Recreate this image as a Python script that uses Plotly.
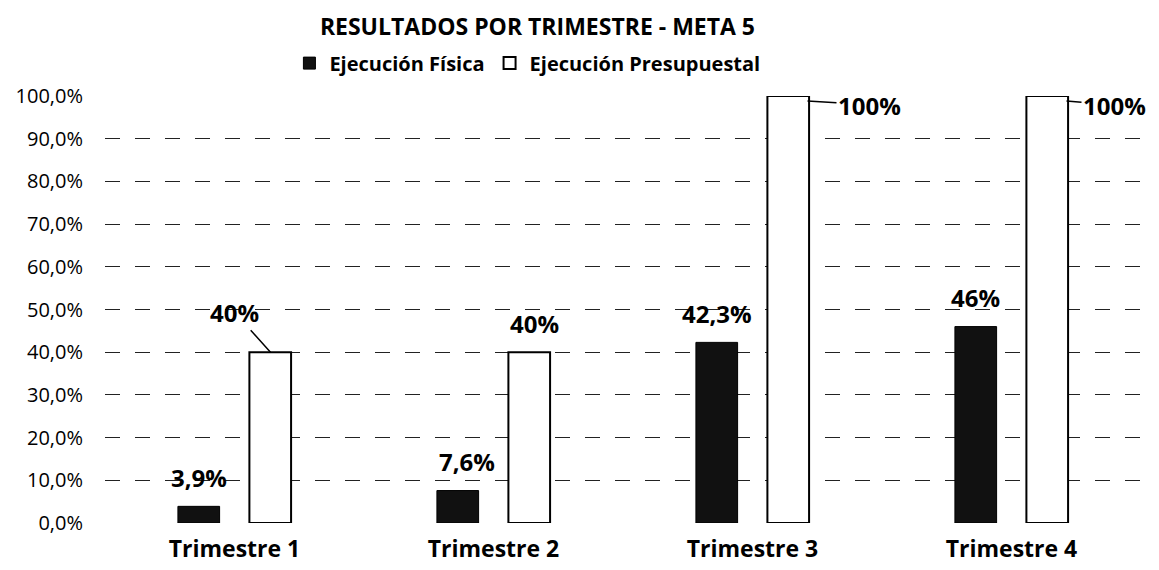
import plotly.graph_objects as go

categories = ["Trimestre 1", "Trimestre 2", "Trimestre 3", "Trimestre 4"]
fisica = [0.039, 0.076, 0.423, 0.46]
presupuestal = [0.40, 0.40, 1.00, 1.00]
fisica_labels = ["3,9%", "7,6%", "42,3%", "46%"]
presup_labels = ["40%", "40%", "100%", "100%"]
y_ticks = [0, 0.1, 0.2, 0.3, 0.4, 0.5, 0.6, 0.7, 0.8, 0.9, 1.0]

FONT = "Open Sans"
LABEL_SIZE = 24

fig = go.Figure()
fig.add_trace(go.Bar(
    x=categories, y=fisica, name="Ejecución Física",
    marker=dict(color="#111111", line=dict(color="#000000", width=1)),
))
fig.add_trace(go.Bar(
    x=categories, y=presupuestal, name="Ejecución Presupuestal",
    marker=dict(color="#ffffff", line=dict(color="#000000", width=2)),
))

# physical labels: centred above each bar
f_xshift = [-36, -27, -36, -36]
for cat, val, lab, xs in zip(categories, fisica, fisica_labels, f_xshift):
    fig.add_annotation(x=cat, y=val, xshift=xs, yshift=29, text="<b>%s</b>" % lab,
                       showarrow=False, yanchor="middle",
                       font=dict(family=FONT, size=LABEL_SIZE, color="#000000"))

# budget labels (styling offsets only)
p_xshift = [36, 41, 55, 55]
p_yshift = [0, 29, -5, -5]
p_ax = [-36, 0, 62, 48]
p_ay = [-40, 0, 4, 4]
p_arrow = [True, False, True, True]
for cat, val, lab, xs, ys, ax, ay, arr in zip(categories, presupuestal, presup_labels,
                                              p_xshift, p_yshift, p_ax, p_ay, p_arrow):
    if arr:
        fig.add_annotation(x=cat, y=val, xshift=xs, yshift=ys, text="<b>%s</b>" % lab,
                           showarrow=True, arrowhead=0, arrowwidth=1.5, arrowcolor="#000000",
                           ax=ax, ay=ay,
                           font=dict(family=FONT, size=LABEL_SIZE, color="#000000"))
    else:
        fig.add_annotation(x=cat, y=val, xshift=xs, yshift=ys, text="<b>%s</b>" % lab,
                           showarrow=False, yanchor="middle",
                           font=dict(family=FONT, size=LABEL_SIZE, color="#000000"))

fig.update_layout(
    width=1151, height=562,
    margin=dict(l=97, r=11, t=88, b=47, autoexpand=False),
    paper_bgcolor="#ffffff", plot_bgcolor="#ffffff",
    separators=",.",
    barmode="group", bargap=0.448, bargroupgap=0.417,
    title=dict(text="<b>RESULTADOS POR TRIMESTRE - META 5</b>", x=0.46, xanchor="center",
               xref="container", yref="container", y=0.966, yanchor="middle",
               font=dict(family=FONT, size=23, color="#000000")),
    legend=dict(orientation="h", xref="paper", yref="paper",
                x=0.405, xanchor="center", y=1.077, yanchor="middle",
                font=dict(family=FONT, size=20, color="#000000", weight="bold"),
                itemwidth=30, traceorder="normal"),
    font=dict(family=FONT, color="#000000"),
    showlegend=True,
)
fig.update_yaxes(range=[0, 1.0], tickvals=y_ticks, tickformat=".1%", automargin=False,
                 showgrid=True, gridcolor="#222222", griddash="longdash", gridwidth=1,
                 zeroline=False, showline=False, ticks="", ticklabelstandoff=21,
                 tickfont=dict(family=FONT, size=20, color="#000000"))
fig.update_xaxes(showline=False, ticks="", showgrid=False, ticklabelstandoff=10,
                 automargin=False,
                 tickfont=dict(family=FONT, size=23, color="#000000", weight="bold"))

fig.write_html("out.html")
